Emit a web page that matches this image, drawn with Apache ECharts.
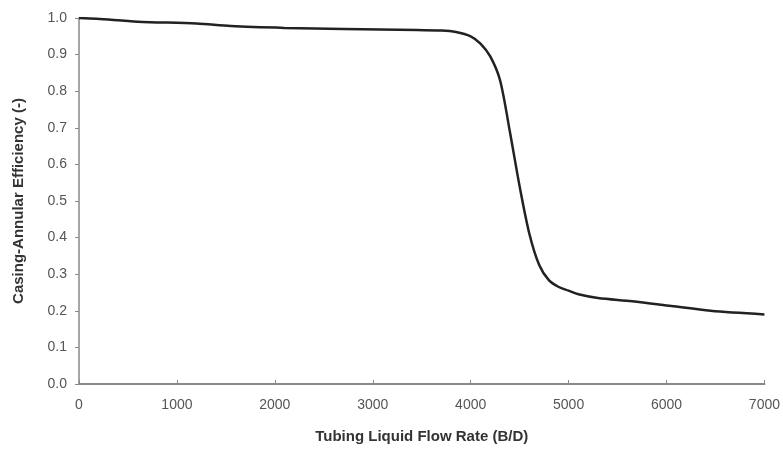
<!DOCTYPE html>
<html>
<head>
<meta charset="utf-8">
<script src="https://cdn.jsdelivr.net/npm/echarts@6/dist/echarts.min.js"></script>
<style>
  html, body { margin: 0; padding: 0; background: #fff; }
  #chart { width: 783px; height: 449px; }
</style>
</head>
<body>
<div id="chart"></div>
<script>
// flow rate (B/D) and efficiency
const flowRate = [0, 180, 600, 1200, 1550, 2100, 2700, 3450, 3700, 3850, 4000, 4100, 4200, 4300,
  4400, 4500, 4600, 4700, 4800, 4900, 5000, 5100, 5300, 5650, 6050, 6450, 7000];
const efficiency = [1.0, 0.998, 0.99, 0.985, 0.978, 0.973, 0.970, 0.967, 0.966, 0.962, 0.950, 0.930, 0.895, 0.830,
  0.690, 0.540, 0.410, 0.325, 0.283, 0.265, 0.255, 0.245, 0.235, 0.226, 0.213, 0.200, 0.190];

const points = flowRate.map((x, i) => [x, efficiency[i]]);

const chart = echarts.init(document.getElementById('chart'));
const font = 'Liberation Sans, Arial, sans-serif';
const labelText = { color: '#555', fontFamily: font, fontSize: 14 };
const titleText = { color: '#333', fontFamily: font, fontSize: 15, fontWeight: 'bold' };

chart.setOption({
  animation: false,
  grid: { left: 79, right: 18, top: 18, bottom: 64 },
  xAxis: {
    type: 'value',
    min: 0, max: 7000, interval: 1000,
    name: 'Tubing Liquid Flow Rate (B/D)',
    nameLocation: 'middle',
    nameGap: 45,
    nameTextStyle: titleText,
    axisLine: { lineStyle: { color: '#888', width: 2 } },
    axisTick: { inside: true, length: 4, lineStyle: { color: '#888' } },
    axisLabel: Object.assign({ margin: 14, formatter: v => String(v) }, labelText),
    splitLine: { show: false }
  },
  yAxis: {
    type: 'value',
    min: 0, max: 1, interval: 0.1,
    name: 'Casing-Annular Efficiency (-)',
    nameLocation: 'middle',
    nameGap: 53,
    nameTextStyle: titleText,
    axisLine: { show: true, lineStyle: { color: '#888', width: 1.5 } },
    axisTick: { show: true, length: 4, lineStyle: { color: '#888' } },
    axisLabel: Object.assign({ margin: 12, formatter: v => v.toFixed(1) }, labelText),
    splitLine: { show: false }
  },
  series: [{
    type: 'line',
    data: points,
    smooth: 0.3,
    showSymbol: false,
    lineStyle: { color: '#222', width: 2.5 }
  }]
});
</script>
</body>
</html>
